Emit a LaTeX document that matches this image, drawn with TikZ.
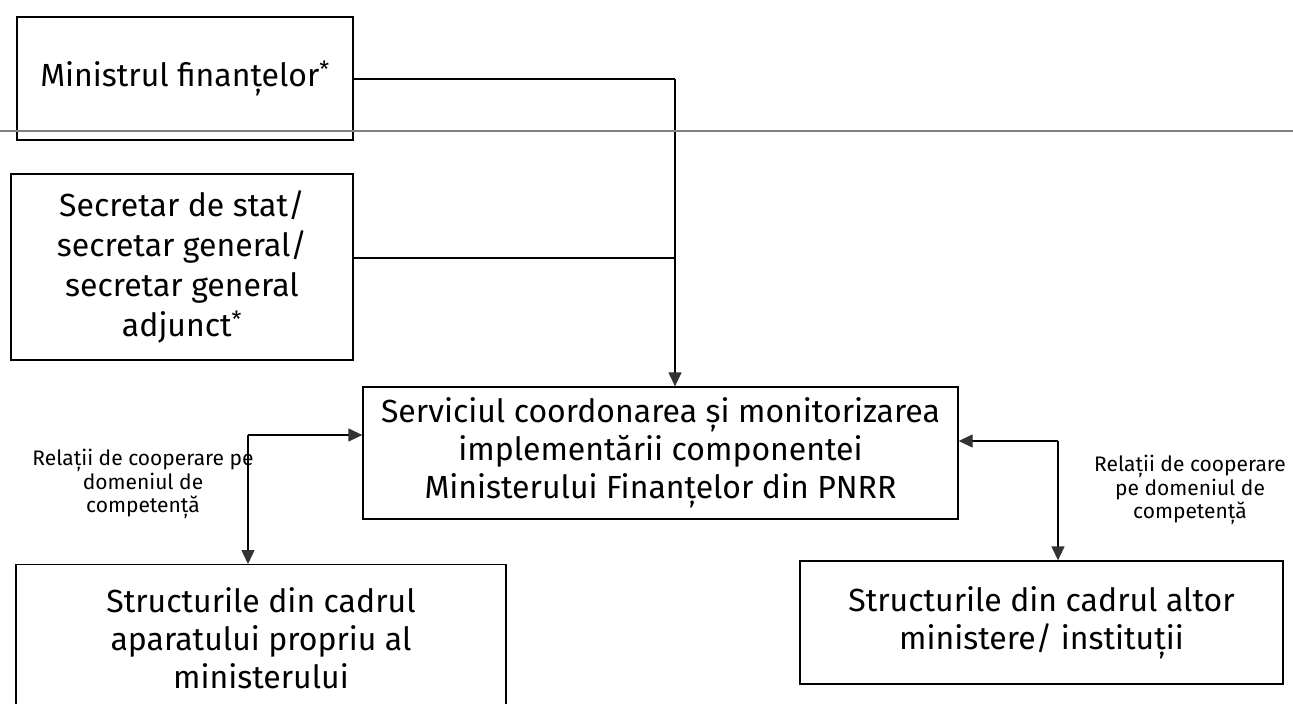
\documentclass[tikz,border=0pt]{standalone}
\usepackage{fontspec}
\setmainfont{Fira Sans}
\usetikzlibrary{arrows.meta}
\begin{document}
\begin{tikzpicture}[x=1pt,y=-1pt,
  box/.style={draw=black, line width=1.3pt, align=center, inner sep=0pt,
    font=\fontsize{32}{40}\selectfont},
  txt/.style={align=center, inner sep=0pt, font=\fontsize{32}{38}\selectfont},
  lbl/.style={align=center, inner sep=0pt, font=\fontsize{21}{23.5}\selectfont},
  link/.style={draw=black, line width=1.3pt},
  arr/.style={link, -{Triangle[length=14pt,width=13pt]}, arrows={[color=black!80]}}]
\useasboundingbox (0,0) rectangle (1293,704);
\node[box, minimum width=336pt, minimum height=123pt] (b1) at (185,78.5)
  {Ministrul finanțelor\textsuperscript{*}};
\node[box, minimum width=342pt, minimum height=186pt] (b2) at (182,267)
  {Secretar de stat/\\secretar general/\\secretar general\\adjunct\textsuperscript{*}};
\node[box, minimum width=595pt, minimum height=132pt, font=\fontsize{32}{38}\selectfont] (c) at (660.5,453)
  {Serviciul coordonarea și monitorizarea\\implementării componentei\\Ministerului Finanțelor din PNRR};
\node[box, minimum width=490pt, minimum height=176pt, anchor=north] (bl) at (261,564) {};
\node[txt] (blt) at (261,638) {Structurile din cadrul\\aparatului propriu al\\ministerului};
\node[box, minimum width=483pt, minimum height=123pt, font=\fontsize{32}{38}\selectfont] (br) at (1041.5,622.5)
  {Structurile din cadrul altor\\ministere/ instituții};
\node[lbl] (ll) at (143,484) {Relații de cooperare pe\\domeniul de\\competență};
\node[lbl] (rl) at (1190,490) {Relații de cooperare\\pe domeniul de\\competență};
\coordinate (j) at (675,79);
\coordinate (k) at (675,258);
\coordinate (lc) at (248,435);
\coordinate (rc) at (1058,441);
\draw[link] (b1.east |- j) -- (j);
\draw[link] (k -| b2.east) -- (k);
\draw[arr] (j) -- (j |- c.north);
\draw[arr] (lc) -- (lc -| c.west);
\draw[arr] (lc) -- (lc |- bl.north);
\draw[arr] (rc) -- (rc -| c.east);
\draw[arr] (rc) -- (rc |- br.north);
\draw[black!50, line width=1.2pt] (0,131) -- (1293,131);
\end{tikzpicture}
\end{document}
